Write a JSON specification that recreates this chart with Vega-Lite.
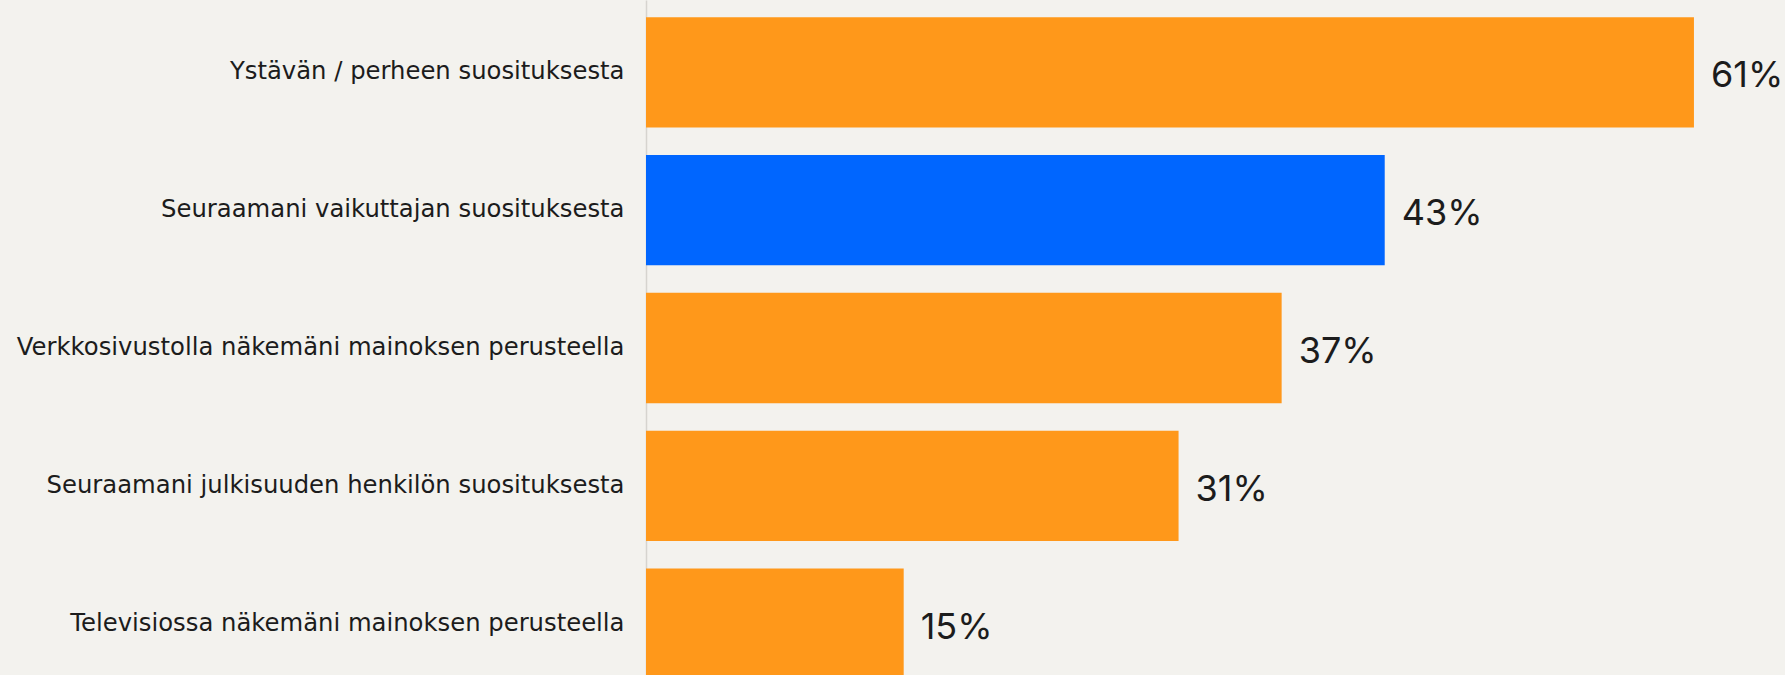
{
  "$schema": "https://vega.github.io/schema/vega-lite/v6.json",
  "autosize": {"type": "none"},
  "width": 1139,
  "height": 696,
  "padding": {"left": 646, "top": 0, "right": 0, "bottom": 0},
  "background": "#F3F2EE",
  "config": {"view": {"stroke": null}},
  "data": {
    "values": [
      {"kategoria": "Ystävän / perheen suosituksesta", "osuus": 0.61, "korostus": "ei"},
      {"kategoria": "Seuraamani vaikuttajan suosituksesta", "osuus": 0.43, "korostus": "kyllä"},
      {"kategoria": "Verkkosivustolla näkemäni mainoksen perusteella", "osuus": 0.37, "korostus": "ei"},
      {"kategoria": "Seuraamani julkisuuden henkilön suosituksesta", "osuus": 0.31, "korostus": "ei"},
      {"kategoria": "Televisiossa näkemäni mainoksen perusteella", "osuus": 0.15, "korostus": "ei"}
    ]
  },
  "encoding": {
    "y": {
      "field": "kategoria",
      "type": "nominal",
      "sort": null,
      "scale": {"paddingInner": 0.2, "paddingOuter": 0.125},
      "axis": {
        "title": null,
        "ticks": false,
        "tickSize": 0,
        "labelPadding": 22,
        "labelLimit": 800,
        "labelFont": "DejaVu Sans",
        "labelFontSize": 24.3,
        "labelColor": "#1c1c1c",
        "domainColor": "#d6d4cf",
        "domainWidth": 1.5
      }
    },
    "x": {
      "field": "osuus",
      "type": "quantitative",
      "scale": {"domain": [0, 0.663], "nice": false},
      "axis": null
    }
  },
  "layer": [
    {
      "mark": {"type": "bar"},
      "encoding": {
        "color": {
          "field": "korostus",
          "type": "nominal",
          "scale": {"domain": ["ei", "kyllä"], "range": ["#FF981A", "#0066FF"]},
          "legend": null
        }
      }
    },
    {
      "mark": {"type": "text", "align": "left", "baseline": "middle", "dx": 17, "dy": 4, "font": "Inter", "fontSize": 36, "color": "#1c1c1c"},
      "encoding": {
        "text": {"field": "osuus", "type": "quantitative", "format": ".0%"},
        "detail": {"field": "osuus"}
      }
    }
  ]
}
